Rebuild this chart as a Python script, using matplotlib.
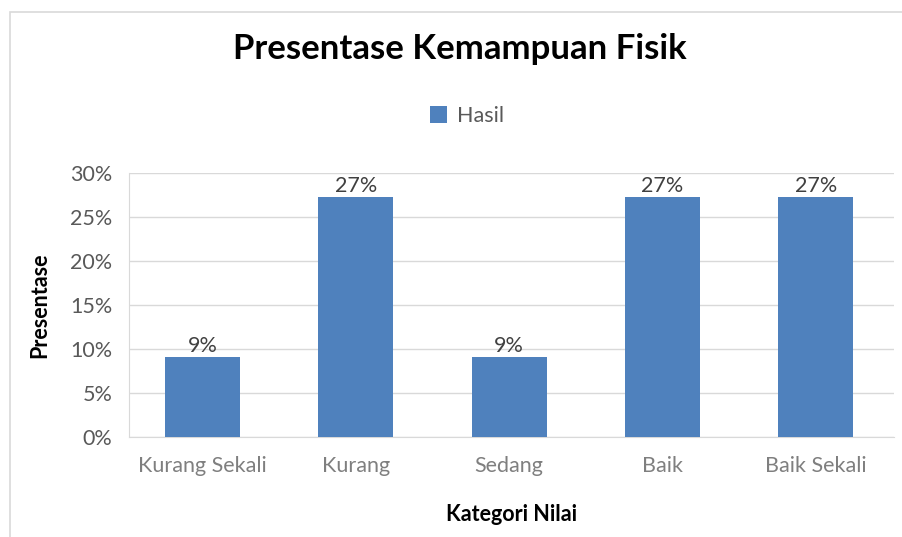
import matplotlib
matplotlib.use("Agg")
import matplotlib.pyplot as plt
from matplotlib.patches import Rectangle
from matplotlib.ticker import FuncFormatter

categories = ["Kurang Sekali", "Kurang", "Sedang", "Baik", "Baik Sekali"]
values = [9.09, 27.27, 9.09, 27.27, 27.27]
labels = ["9%", "27%", "9%", "27%", "27%"]
yticks = [0, 5, 10, 15, 20, 25, 30]

plt.rcParams['font.family'] = ['Lato', 'DejaVu Sans']

fig = plt.figure(figsize=(9.03, 5.37), dpi=100)
fig.patches.append(Rectangle((10/903, -0.1), 1.0, 1 - 12/537 + 0.1, transform=fig.transFigure,
                             fill=False, edgecolor='#D9D9D9', linewidth=1.2))

ax = fig.add_axes([129/903, 100/537, (894-129)/903, (437-173)/537])
x = list(range(len(categories)))
bars = ax.bar(x, values, width=0.49, color='#4F81BD', label='Hasil', zorder=3)
ax.set_xlim(-0.48, len(categories) - 0.49)
ax.set_ylim(0, 30)
ax.set_yticks(yticks)
ax.yaxis.set_major_formatter(FuncFormatter(lambda v, p: f"{int(v)}%"))
ax.grid(axis='y', color='#D9D9D9', linewidth=1, zorder=0)
for s in ['top', 'right']:
    ax.spines[s].set_visible(False)
ax.spines['left'].set_color('#D9D9D9')
ax.spines['bottom'].set_color('#D9D9D9')
ax.tick_params(axis='both', length=0)
ax.tick_params(axis='y', labelsize=15.5, labelcolor='#595959', pad=12)
ax.tick_params(axis='x', labelsize=15.5, labelcolor='#7F7F7F', pad=14)
ax.set_xticks(x)
ax.set_xticklabels(categories)

for xi, v, lab in zip(x, values, labels):
    ax.text(xi, v + 0.1, lab, ha='center', va='bottom', fontsize=15.5, color='#404040')

ax.set_ylabel('Presentase', fontsize=15.5, fontweight='bold', color='black', labelpad=14)
ax.set_xlabel('Kategori Nilai', fontsize=15.5, fontweight='bold', color='black', labelpad=20)

fig.text(460/903, 1 - 49/537, 'Presentase Kemampuan Fisik', ha='center', va='center',
         fontsize=25, fontweight='bold', color='black')
leg = fig.legend(handles=[bars], labels=['Hasil'], loc='center', bbox_to_anchor=(467/903, 1 - 116/537),
                 frameon=False, fontsize=15.5, handlelength=0.8, handleheight=0.8, handletextpad=0.5)
for t in leg.get_texts():
    t.set_color('#595959')

fig.savefig('out.png', dpi=100)
